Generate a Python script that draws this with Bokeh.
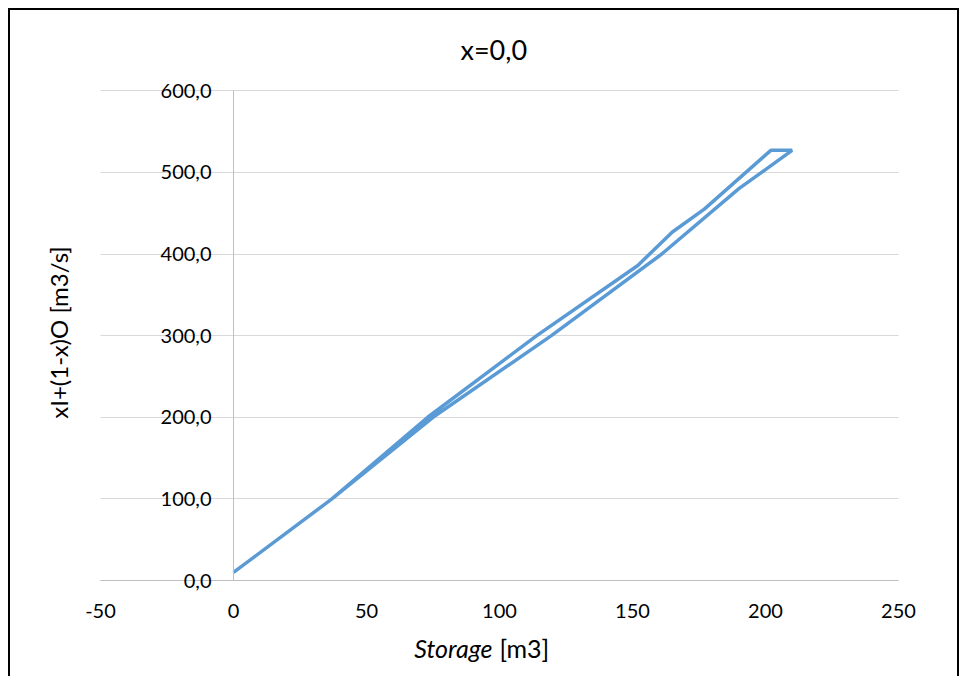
import math
from bokeh.plotting import figure
from bokeh.models import FixedTicker, Label, Grid
from bokeh.embed import file_html
from bokeh.resources import INLINE

# ---- data ----
storage = [0, 37, 73, 114, 152, 165, 177, 202, 210, 190, 161, 119.5, 75, 37, 0]
flow = [10, 100, 200, 300, 386, 427, 455, 527, 527, 480, 400, 300, 200, 100, 10]

x_ticks = [-50, 0, 50, 100, 150, 200, 250]
x_tick_labels = ["-50", "0", "50", "100", "150", "200", "250"]
y_ticks = [0, 100, 200, 300, 400, 500, 600]
y_tick_labels = ["0,0", "100,0", "200,0", "300,0", "400,0", "500,0", "600,0"]

title_text = "x=0,0"
x_title_italic = "Storage"
x_title_rest = "[m3]"
y_title = "xI+(1-x)O [m3/s]"

FONT = "Lato"

X_MIN, X_MAX = x_ticks[0], x_ticks[-1]
CANVAS_W, CANVAS_H = 951, 668
PLOT_L, PLOT_R = 90, 888          # plot area (axis extent) inside the canvas, px
PX_PER_X = (PLOT_R - PLOT_L) / (X_MAX - X_MIN)

has_cross_bounds = "cross_bounds" in Grid.properties()

if has_cross_bounds:
    # frame covers the whole canvas width; grid lines limited to the axis extent
    x_range = (X_MIN - PLOT_L / PX_PER_X, X_MAX + (CANVAS_W - PLOT_R) / PX_PER_X)
    mb_left, mb_right = 0, 0
else:
    x_range = (X_MIN, X_MAX)
    mb_left, mb_right = PLOT_L, CANVAS_W - PLOT_R
frame_left = mb_left  # canvas px

p = figure(width=CANVAS_W, height=CANVAS_H, x_range=x_range, y_range=(-120, 615),
           output_backend="svg", toolbar_location=None,
           min_border_left=mb_left, min_border_right=mb_right, min_border_top=68, min_border_bottom=0,
           styles={"border-top": "2px solid black", "border-left": "2px solid black",
                   "border-right": "2px solid black", "margin-left": "8px", "margin-top": "8px"})
p.outline_line_color = None
p.background_fill_color = "white"
p.border_fill_color = "white"

p.title.text = title_text
p.title.align = "left"
p.title.text_font = FONT
p.title.text_font_size = "27px"
p.title.text_font_style = "normal"
p.title.text_color = "black"
p.title.standoff = 26
p.title.offset = 360 + (PLOT_L - frame_left)

p.line(storage, flow, line_color="#5B9BD5", line_width=3.5)

# grid
p.xgrid.visible = False
yg = p.ygrid[0]
yg.ticker = FixedTicker(ticks=y_ticks)
yg.grid_line_color = "#d9d9d9"
yg.grid_line_width = 1
if has_cross_bounds:
    yg.cross_bounds = (X_MIN, X_MAX)

# x axis along y = 0
xa = p.xaxis[0]
xa.fixed_location = 0
xa.bounds = (X_MIN, X_MAX)
xa.ticker = FixedTicker(ticks=x_ticks)
xa.major_label_overrides = {t: l for t, l in zip(x_ticks, x_tick_labels)}
xa.axis_line_color = "#bfbfbf"
xa.major_tick_line_color = None
xa.minor_tick_line_color = None
xa.major_tick_out = 0
xa.major_label_text_font = FONT
xa.major_label_text_font_size = "20px"
xa.major_label_text_color = "black"
xa.major_label_standoff = 23

# y axis crossing at x = 0
ya = p.yaxis[0]
ya.fixed_location = 0
ya.bounds = (y_ticks[0], y_ticks[-1])
ya.ticker = FixedTicker(ticks=y_ticks)
ya.major_label_overrides = {t: l for t, l in zip(y_ticks, y_tick_labels)}
ya.axis_line_color = "#bfbfbf"
ya.major_tick_line_color = None
ya.minor_tick_line_color = None
ya.major_tick_out = 0
ya.major_label_text_font = FONT
ya.major_label_text_font_size = "20px"
ya.major_label_text_color = "black"
ya.major_label_standoff = 22

# axis titles (positions in px relative to the frame's bottom-left corner)
lab1 = Label(x=482 - frame_left, y=31, x_units="screen", y_units="screen", text=x_title_italic,
             text_align="right", text_baseline="alphabetic", text_font=FONT,
             text_font_size="25px", text_font_style="italic", text_color="black")
lab2 = Label(x=489 - frame_left, y=31, x_units="screen", y_units="screen", text=x_title_rest,
             text_align="left", text_baseline="alphabetic", text_font=FONT,
             text_font_size="25px", text_color="black")
p.add_layout(lab1)
p.add_layout(lab2)
if has_cross_bounds:
    lab3 = Label(x=48 - frame_left, y=346, x_units="screen", y_units="screen", text=y_title,
                 angle=math.pi / 2, text_align="center", text_baseline="middle", text_font=FONT,
                 text_font_size="24px", text_color="black")
    p.add_layout(lab3)
else:
    lab3 = Label(x=-19, y=346, x_units="screen", y_units="screen", text=y_title,
                 angle=math.pi / 2, text_align="center", text_baseline="middle", text_font=FONT,
                 text_font_size="24px", text_color="black")
    p.add_layout(lab3, "left")

open("out.html", "w").write(file_html(p, INLINE))
